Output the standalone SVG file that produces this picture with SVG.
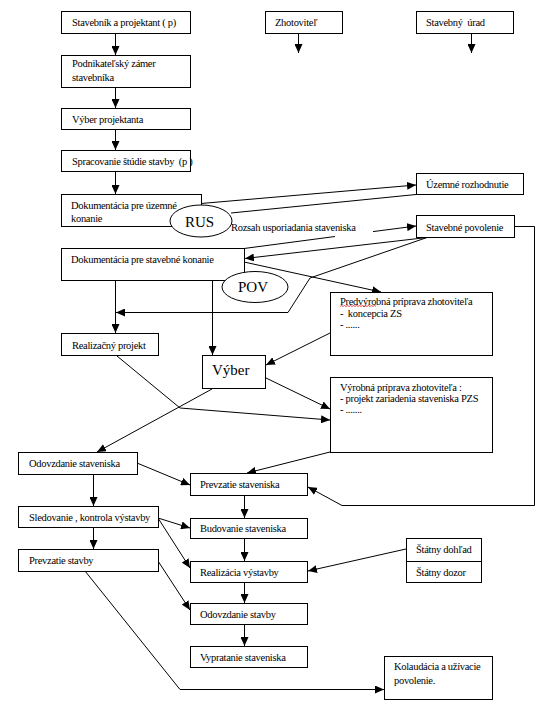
<svg xmlns="http://www.w3.org/2000/svg" width="550" height="718" viewBox="0 0 550 718">
<style>
.box{fill:#fff;stroke:#000;stroke-width:1}
.t{font-family:"Liberation Serif","Times New Roman",serif;font-size:10.5px;letter-spacing:-0.3px;fill:#000}
.big{font-size:15px;letter-spacing:0}
.c{fill:none;stroke:#000;stroke-width:1}
</style>
<defs>
<marker id="ah" viewBox="0 0 9 8" refX="9" refY="4" markerWidth="9" markerHeight="8" markerUnits="userSpaceOnUse" orient="auto">
<path d="M0,0 L9,4 L0,8 z" fill="#000"/>
</marker>
</defs>
<rect width="550" height="718" fill="#fff"/>
<g id="connectors">
<path class="c" marker-end="url(#ah)" d="M115.5,33.5 L115.5,55"/>
<path class="c" marker-end="url(#ah)" d="M115.5,87.5 L115.5,108"/>
<path class="c" marker-end="url(#ah)" d="M115.5,129.5 L115.5,150"/>
<path class="c" marker-end="url(#ah)" d="M115.5,171.5 L115.5,194"/>
<path class="c" marker-end="url(#ah)" d="M298.5,33.5 L298.5,53"/>
<path class="c" marker-end="url(#ah)" d="M471.5,33.5 L471.5,53"/>
<path class="c" marker-end="url(#ah)" d="M201,203.5 L416,185"/>
<path class="c" d="M231,213 L416,194.5"/>
<path class="c" marker-end="url(#ah)" d="M244,248.5 L335,236.5 M373,231.6 L416,226"/>
<path class="c" marker-end="url(#ah)" d="M427,237.5 L245,258.5"/>
<path class="c" marker-end="url(#ah)" d="M427,237.5 L310,278 L288,312.5 L116,312.5"/>
<path class="c" marker-end="url(#ah)" d="M244,262 L381,292"/>
<path class="c" marker-end="url(#ah)" d="M115.5,280.5 L115.5,333"/>
<path class="c" marker-end="url(#ah)" d="M212.5,280.5 L212.5,355"/>
<path class="c" marker-end="url(#ah)" d="M330,333 L266,365"/>
<path class="c" marker-end="url(#ah)" d="M266,378 L330,409"/>
<path class="c" marker-end="url(#ah)" d="M117,356 L180,408 L330,420"/>
<path class="c" marker-end="url(#ah)" d="M212,389 L97,452"/>
<path class="c" marker-end="url(#ah)" d="M330,452 L247,473"/>
<path class="c" marker-end="url(#ah)" d="M137,463 L190,485"/>
<path class="c" marker-end="url(#ah)" d="M93.5,474.5 L93.5,506"/>
<path class="c" marker-end="url(#ah)" d="M514,226.5 L534.5,226.5 L534.5,505.5 L342,505.5 L308,487"/>
<path class="c" marker-end="url(#ah)" d="M244.5,495.5 L244.5,518"/>
<path class="c" marker-end="url(#ah)" d="M158,518 L190,528"/>
<path class="c" marker-end="url(#ah)" d="M158,518 L190,568"/>
<path class="c" marker-end="url(#ah)" d="M93.5,527.5 L93.5,549"/>
<path class="c" marker-end="url(#ah)" d="M406,549 L308,571"/>
<path class="c" marker-end="url(#ah)" d="M244.5,538.5 L244.5,561"/>
<path class="c" marker-end="url(#ah)" d="M244.5,582.5 L244.5,603"/>
<path class="c" marker-end="url(#ah)" d="M158,561 L190,610"/>
<path class="c" marker-end="url(#ah)" d="M244.5,624.5 L244.5,646"/>
<path class="c" marker-end="url(#ah)" d="M85,571 L180,689.5 L384,689.5"/>
</g>
<g id="n1"><rect class="box" x="61.5" y="11.5" width="129" height="22"/><text class="t" x="72" y="26">Stavebník a projektant ( p)</text></g>
<g id="n2"><rect class="box" x="61.5" y="55.5" width="129" height="32"/><text class="t" x="72" y="67">Podnikateľský zámer</text><text class="t" x="72" y="81">stavebníka</text></g>
<g id="n3"><rect class="box" x="61.5" y="108.5" width="129" height="21"/><text class="t" x="72" y="123">Výber projektanta</text></g>
<g id="n4"><rect class="box" x="61.5" y="150.5" width="129" height="21"/><text class="t" x="72" y="165" xml:space="preserve">Spracovanie štúdie stavby  (p )</text></g>
<g id="n5"><rect class="box" x="265.5" y="11.5" width="77" height="22"/><text class="t" x="275" y="26">Zhotoviteľ</text></g>
<g id="n6"><rect class="box" x="416.5" y="11.5" width="97" height="22"/><text class="t" x="426" y="26" xml:space="preserve">Stavebný  úrad</text></g>
<g id="n7"><rect class="box" x="61.5" y="194.5" width="140" height="32"/><text class="t" x="71" y="209">Dokumentácia pre územné</text><text class="t" x="71" y="222">konanie</text></g>
<g id="n8"><ellipse class="box" cx="201" cy="221" rx="31" ry="16"/><text class="t big" x="185" y="227">RUS</text></g>
<g id="n9"><rect class="box" x="416.5" y="173.5" width="107" height="21"/><text class="t" x="426" y="188">Územné rozhodnutie</text></g>
<g id="n10"><rect class="box" x="416.5" y="215.5" width="98" height="22"/><text class="t" x="426" y="231">Stavebné povolenie</text></g>
<g id="lbl"><text class="t" x="231" y="231">Rozsah usporiadania staveniska</text></g>
<g id="n11"><rect class="box" x="61.5" y="248.5" width="183" height="32"/><text class="t" x="71" y="263">Dokumentácia pre stavebné konanie</text></g>
<g id="n12"><ellipse class="box" cx="255" cy="287" rx="33" ry="15.5"/><text class="t big" x="238" y="292">POV</text></g>
<g id="n13"><rect class="box" x="330.5" y="292.5" width="162" height="63"/><text class="t" x="340" y="305">Predvýrobná príprava zhotoviteľa</text><polyline points="340,306.5 341.5,305.5 343,306.5 344.5,305.5 346,306.5 347.5,305.5 349,306.5 350.5,305.5 352,306.5 353.5,305.5 355,306.5 356.5,305.5 358,306.5 359.5,305.5 361,306.5 362.5,305.5 364,306.5 365.5,305.5 367,306.5 368.5,305.5 370,306.5 371.5,305.5 373,306.5 374.5,305.5 376,306.5" fill="none" stroke="#e00" stroke-width="0.7"/><text class="t" x="340" y="317" xml:space="preserve">-  koncepcia ZS</text><text class="t" x="340" y="328">- ......</text></g>
<g id="n14"><rect class="box" x="61.5" y="333.5" width="97" height="22"/><text class="t" x="72" y="349">Realizačný projekt</text></g>
<g id="n15"><rect class="box" x="202.5" y="355.5" width="63" height="33"/><text class="t big" x="212" y="375">Výber</text></g>
<g id="n16"><rect class="box" x="330.5" y="377.5" width="162" height="75"/><text class="t" x="340" y="391">Výrobná príprava zhotoviteľa :</text><text class="t" x="340" y="402">- projekt zariadenia staveniska PZS</text><text class="t" x="340" y="413">- .......</text></g>
<g id="n17"><rect class="box" x="18.5" y="452.5" width="119" height="22"/><text class="t" x="29" y="467">Odovzdanie staveniska</text></g>
<g id="n18"><rect class="box" x="190.5" y="473.5" width="117" height="22"/><text class="t" x="200" y="488">Prevzatie staveniska</text></g>
<g id="n19"><rect class="box" x="18.5" y="506.5" width="140" height="21"/><text class="t" x="29" y="521">Sledovanie , kontrola výstavby</text></g>
<g id="n20"><rect class="box" x="190.5" y="518.5" width="117" height="20"/><text class="t" x="200" y="532">Budovanie staveniska</text></g>
<g id="n21"><rect class="box" x="18.5" y="549.5" width="140" height="22"/><text class="t" x="29" y="564">Prevzatie stavby</text></g>
<g id="n22"><rect class="box" x="190.5" y="561.5" width="117" height="21"/><text class="t" x="200" y="576">Realizácia výstavby</text></g>
<g id="n23"><rect class="box" x="406.5" y="538.5" width="75" height="23"/><rect class="box" x="406.5" y="561.5" width="75" height="21"/><text class="t" x="416" y="553">Štátny dohľad</text><text class="t" x="416" y="576">Štátny dozor</text></g>
<g id="n24"><rect class="box" x="190.5" y="603.5" width="117" height="21"/><text class="t" x="200" y="618">Odovzdanie stavby</text></g>
<g id="n25"><rect class="box" x="190.5" y="646.5" width="117" height="21"/><text class="t" x="200" y="661">Vypratanie staveniska</text></g>
<g id="n26"><rect class="box" x="384.5" y="656.5" width="108" height="43"/><text class="t" x="394" y="670">Kolaudácia a užívacie</text><text class="t" x="394" y="684">povolenie.</text></g>
</svg>
